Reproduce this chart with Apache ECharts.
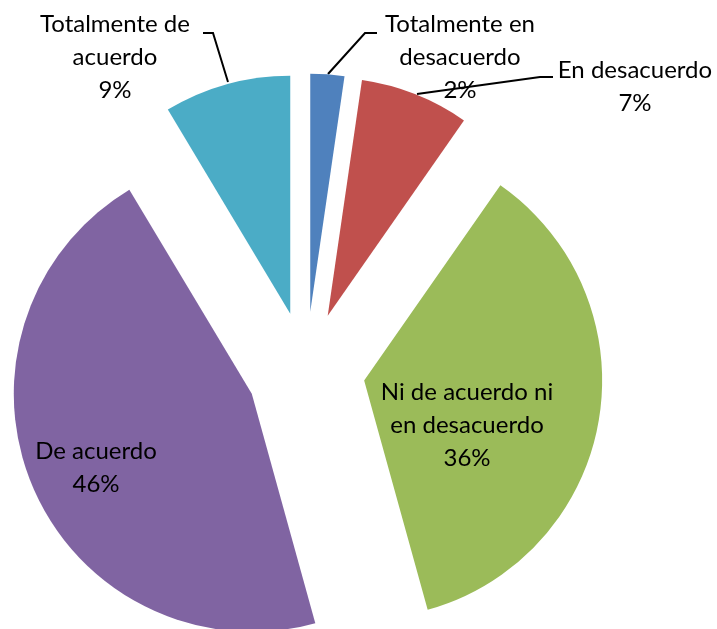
<!DOCTYPE html>
<html>
<head>
<meta charset="utf-8">
<script src="https://cdn.jsdelivr.net/npm/echarts@6/dist/echarts.min.js"></script>
<style>
  html, body { margin: 0; padding: 0; background: #fff; }
  #chart { width: 717px; height: 629px; }
</style>
</head>
<body>
<div id="chart"></div>
<script>
// slices, clockwise from 12 o'clock (shares)
const categories = [
  "Totalmente en desacuerdo",
  "En desacuerdo",
  "Ni de acuerdo ni en desacuerdo",
  "De acuerdo",
  "Totalmente de acuerdo"
];
const labelNames = [
  "Totalmente en\ndesacuerdo",
  "En desacuerdo",
  "Ni de acuerdo ni\nen desacuerdo",
  "De acuerdo",
  "Totalmente de\nacuerdo"
];
const values = [2.3, 7.4, 36.0, 45.7, 8.6];
const colors = ["#4F81BD", "#C0504D", "#9BBB59", "#8064A2", "#4BACC6"];
const insideLabel = [false, false, true, true, false];

// label box centres and leader lines (label end first)
const labelPos = [[460, 57], [635, 87], [467, 425], [96, 468], [115, 57]];
const leaders = [
  [[377, 33], [365, 33], [328, 74]],
  [[553, 77], [540, 77], [417, 94]],
  null,
  null,
  [[203, 33], [213, 33], [228, 82]]
];

const pieCenter = [306, 370.5];
const pieRadius = 238;
const explode = 59;

const chart = echarts.init(document.getElementById("chart"), null, { renderer: "canvas" });

const total = values.reduce((a, b) => a + b, 0);
let cum = 0;
const series = values.map((v, i) => {
  const startDeg = (cum / total) * 360;           // clockwise from top
  const midRad = ((cum + v / 2) / total) * 2 * Math.PI;
  cum += v;
  return {
    type: "pie",
    silent: true,
    center: [
      pieCenter[0] + explode * Math.sin(midRad),
      pieCenter[1] - explode * Math.cos(midRad)
    ],
    radius: pieRadius,
    startAngle: 90 - startDeg,
    clockwise: true,
    avoidLabelOverlap: false,
    emphasis: { disabled: true },
    data: [
      {
        name: categories[i],
        value: v,
        itemStyle: { color: colors[i] },
        label: { show: true, position: insideLabel[i] ? "inside" : "outside" },
        labelLine: { show: !insideLabel[i] }
      },
      {
        name: "",
        value: total - v,
        itemStyle: { color: "transparent" },
        label: { show: false },
        labelLine: { show: false }
      }
    ],
    label: {
      formatter: () => labelNames[i] + "\n" + Math.round(v) + "%",
      color: "#000",
      fontFamily: "Lato",
      fontSize: 24,
      lineHeight: 33,
      align: "center"
    },
    labelLine: {
      lineStyle: { color: "#000", width: 2 }
    },
    labelLayout: (params) => {
      if (params.dataIndex !== 0) return {};
      const out = {
        x: labelPos[i][0],
        y: labelPos[i][1],
        align: "center",
        verticalAlign: "middle"
      };
      if (leaders[i]) out.labelLinePoints = leaders[i];
      return out;
    }
  };
});

chart.setOption({
  backgroundColor: "#fff",
  animation: false,
  series: series
});
</script>
</body>
</html>
